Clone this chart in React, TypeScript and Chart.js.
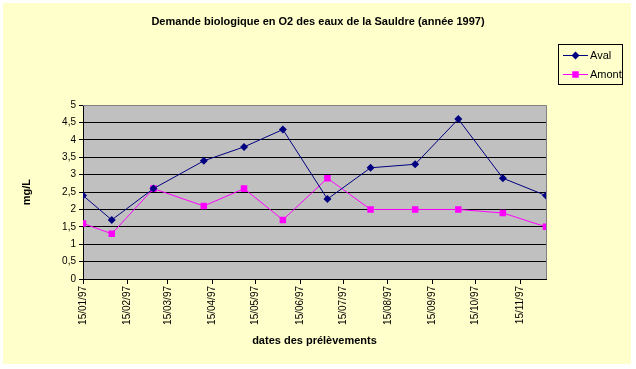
import React, { useEffect, useRef } from 'react';
import { Chart, registerables } from 'chart.js';

Chart.register(...registerables);

const TITLE = 'Demande biologique en O2 des eaux de la Sauldre (année 1997)';
const X_TITLE = 'dates des prélèvements';
const Y_TITLE = 'mg/L';

const sampleDates = ['15/01/97', '04/02/97', '05/03/97', '09/04/97', '07/05/97', '03/06/97', '04/07/97', '03/08/97', '03/09/97', '03/10/97', '03/11/97', '03/12/97'];
const avalValues = [2.4, 1.7, 2.6, 3.4, 3.8, 4.3, 2.3, 3.2, 3.3, 4.6, 2.9, 2.4];
const amontValues = [1.6, 1.3, 2.6, 2.1, 2.6, 1.7, 2.9, 2.0, 2.0, 2.0, 1.9, 1.5];
const tickDates = ['15/01/97', '15/02/97', '15/03/97', '15/04/97', '15/05/97', '15/06/97', '15/07/97', '15/08/97', '15/09/97', '15/10/97', '15/11/97'];

const FONT = 'Arial, "Liberation Sans", sans-serif';
const AVAL_COLOR = '#000080';
const AMONT_COLOR = '#FF00FF';

function toDay(s: string): number {
  const [d, m, y] = s.split('/').map(Number);
  const year = 1900 + y;
  return (Date.UTC(year, m - 1, d) - Date.UTC(year, 0, 0)) / 86400000;
}

const backgroundPlugin = {
  id: 'bgPlugin',
  beforeDraw(chart: any) {
    const { ctx, chartArea } = chart;
    ctx.save();
    ctx.fillStyle = '#FFFFFF';
    ctx.fillRect(0, 0, chart.width, chart.height);
    ctx.fillStyle = '#FFFFCC';
    ctx.fillRect(3, 3, 628, 361);
    ctx.fillStyle = '#C0C0C0';
    ctx.fillRect(chartArea.left, chartArea.top, chartArea.right - chartArea.left, chartArea.bottom - chartArea.top);
    ctx.restore();
  },
  beforeDatasetsDraw(chart: any) {
    const { ctx, chartArea } = chart;
    ctx.save();
    ctx.strokeStyle = '#808080';
    ctx.lineWidth = 1;
    ctx.beginPath();
    ctx.moveTo(chartArea.left, Math.round(chartArea.top) + 0.5);
    ctx.lineTo(Math.round(chartArea.right) + 0.5, Math.round(chartArea.top) + 0.5);
    ctx.lineTo(Math.round(chartArea.right) + 0.5, chartArea.bottom);
    ctx.stroke();
    ctx.restore();
  },
};

const legendPlugin = {
  id: 'boxLegend',
  afterDraw(chart: any) {
    const { ctx } = chart;
    ctx.save();
    ctx.strokeStyle = '#000000';
    ctx.lineWidth = 1;
    ctx.strokeRect(558.5, 44.5, 64, 40);
    chart.data.datasets.forEach((ds: any, i: number) => {
      const y = 55 + i * 19;
      ctx.strokeStyle = ds.borderColor;
      ctx.lineWidth = 1;
      ctx.beginPath();
      ctx.moveTo(563, y + 0.5);
      ctx.lineTo(588, y + 0.5);
      ctx.stroke();
      ctx.fillStyle = ds.backgroundColor;
      const cx = 575.5;
      const cy = y + 0.5;
      if (ds.pointStyle === 'rectRot') {
        const r = ds.pointRadius;
        ctx.beginPath();
        ctx.moveTo(cx, cy - r);
        ctx.lineTo(cx + r, cy);
        ctx.lineTo(cx, cy + r);
        ctx.lineTo(cx - r, cy);
        ctx.closePath();
        ctx.fill();
      } else {
        const h = Math.SQRT1_2 * ds.pointRadius;
        ctx.fillRect(cx - h, cy - h, 2 * h, 2 * h);
      }
      ctx.fillStyle = '#000000';
      ctx.font = `11px ${FONT}`;
      ctx.textBaseline = 'middle';
      ctx.textAlign = 'left';
      ctx.fillText(ds.label, 590, y + 1);
    });
    ctx.restore();
  },
};

export default function App() {
  const canvasRef = useRef<HTMLCanvasElement | null>(null);

  useEffect(() => {
    const canvas = canvasRef.current;
    if (!canvas) return;
    const days = sampleDates.map(toDay);
    const chart = new Chart(canvas, {
      type: 'line',
      data: {
        datasets: [
          {
            label: 'Aval',
            data: days.map((d, i) => ({ x: d, y: avalValues[i] })),
            borderColor: AVAL_COLOR,
            backgroundColor: AVAL_COLOR,
            borderWidth: 1,
            pointStyle: 'rectRot',
            pointRadius: 4,
            pointBorderWidth: 0,
            tension: 0,
          },
          {
            label: 'Amont',
            data: days.map((d, i) => ({ x: d, y: amontValues[i] })),
            borderColor: AMONT_COLOR,
            backgroundColor: AMONT_COLOR,
            borderWidth: 1,
            pointStyle: 'rect',
            pointRadius: 4.6,
            pointBorderWidth: 0,
            tension: 0,
          },
        ],
      },
      options: {
        responsive: false,
        animation: false,
        layout: { padding: { left: 0, right: 0, top: 0, bottom: 0 } },
        plugins: {
          legend: { display: false },
          tooltip: { enabled: false },
          title: {
            display: true,
            text: TITLE,
            color: '#000000',
            font: { family: FONT, size: 11, weight: 'bold' },
            padding: { top: 15, bottom: 77 },
          },
        },
        scales: {
          x: {
            type: 'linear',
            min: toDay(sampleDates[0]),
            max: toDay(sampleDates[sampleDates.length - 1]),
            afterBuildTicks: (scale: any) => {
              scale.ticks = tickDates.map((t) => ({ value: toDay(t) }));
            },
            afterFit: (scale: any) => {
              scale.height = 90;
            },
            ticks: {
              autoSkip: false,
              minRotation: 90,
              maxRotation: 90,
              color: '#000000',
              padding: 2,
              font: { family: FONT, size: 10 },
              callback: (_v: any, i: number) => tickDates[i],
            },
            grid: {
              drawOnChartArea: false,
              drawTicks: true,
              tickLength: 5,
              tickColor: '#000000',
              color: '#000000',
            },
            border: { display: true, color: '#000000', width: 1 },
            title: {
              display: true,
              text: X_TITLE,
              color: '#000000',
              font: { family: FONT, size: 11, weight: 'bold' },
              padding: { top: 0, bottom: 21 },
            },
          },
          y: {
            min: 0,
            max: 5,
            afterFit: (scale: any) => {
              scale.width = 83;
            },
            ticks: {
              stepSize: 0.5,
              color: '#000000',
              padding: 3,
              font: { family: FONT, size: 10 },
              callback: (v: any) => String(v).replace('.', ','),
            },
            grid: {
              color: (ctx: any) => (ctx.tick && ctx.tick.value === 5 ? 'rgba(0,0,0,0)' : '#000000'),
              tickColor: '#000000',
              tickLength: 4,
              lineWidth: 1,
            },
            border: { display: true, color: '#000000', width: 1 },
            title: {
              display: true,
              text: Y_TITLE,
              color: '#000000',
              font: { family: FONT, size: 11, weight: 'bold' },
              padding: { top: 20, bottom: 0 },
            },
          },
          legendSpace: {
            type: 'linear',
            position: 'right',
            display: true,
            min: 0,
            max: 5,
            afterFit: (scale: any) => {
              scale.width = 90;
            },
            ticks: { display: false },
            grid: { display: false, drawTicks: false },
            border: { display: false },
          },
        },
      },
      plugins: [backgroundPlugin, legendPlugin],
    });
    return () => chart.destroy();
  }, []);

  return (
    <div style={{ position: 'fixed', left: 0, top: 0, width: 636, height: 369 }}>
      <canvas ref={canvasRef} width={636} height={369} />
    </div>
  );
}
